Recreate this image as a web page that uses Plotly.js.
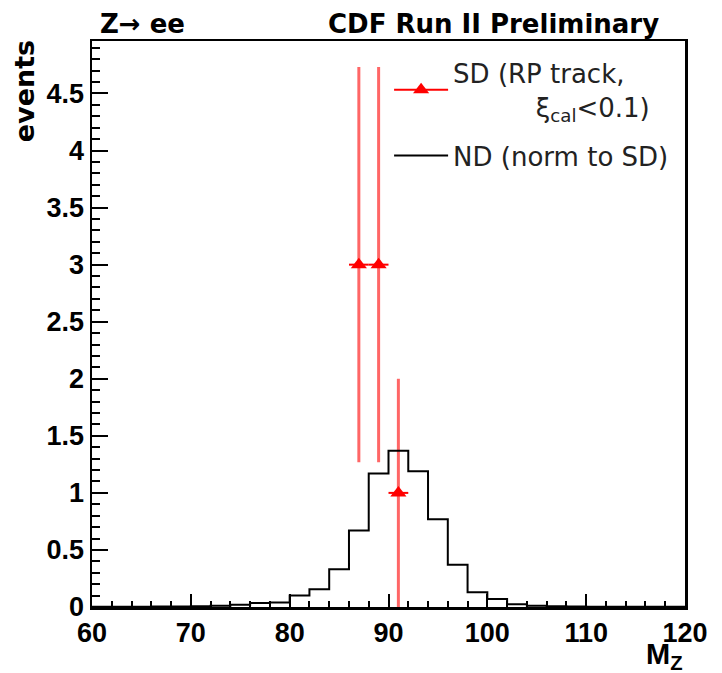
<!DOCTYPE html>
<html>
<head>
<meta charset="utf-8">
<script src="https://cdn.plot.ly/plotly-3.0.1.min.js"></script>
<style>html,body{margin:0;padding:0;background:#fff;}#chart{width:722px;height:673px;}</style>
</head>
<body>
<div id="chart"></div>
<script>
// ND histogram (normalised to SD): bin edges (GeV) and contents
const binEdges = [60,62,64,66,68,70,72,74,76,78,80,82,84,86,88,90,92,94,96,98,100,102,104,106,108,110,112,114,116,118,120];
const ndValues = [0.003,0.003,0.003,0.004,0.005,0.006,0.012,0.02,0.035,0.04,0.1,0.156,0.33,0.67,1.17,1.37,1.19,0.77,0.37,0.13,0.07,0.025,0.012,0.006,0.004,0.003,0.003,0.002,0.002,0.002];
// SD data points
const sdMass = [87, 89, 91];
const sdEvents = [3, 3, 1];
const sdErr = [1.732, 1.732, 1.0];
const sdXErr = [1, 1, 1];

const stepX = binEdges.slice();
const stepY = ndValues.concat([ndValues[ndValues.length-1]]);

const fontL = "Liberation Sans, Arial, sans-serif";
const fontD = "DejaVu Sans, sans-serif";

const traces = [
  {
    x: sdMass, y: sdEvents, type: 'scatter', mode: 'markers', showlegend: false,
    marker: {symbol: 'triangle-up', size: 14, color: 'red'},
    error_y: {type: 'data', array: sdErr, visible: true, color: 'rgba(255,0,0,0.6)', thickness: 3, width: 0},
    error_x: {type: 'data', array: sdXErr, visible: true, color: 'red', thickness: 2, width: 0}
  },
  {
    // legend entry for SD (line + triangle, as in the reference legend)
    x: [null], y: [null], type: 'scatter', mode: 'lines+markers', legendgroup: 'sd',
    name: 'SD (RP track,<br>          ξ<sub>cal</sub>&lt;0.1)',
    marker: {symbol: 'triangle-up', size: 14, color: 'red'},
    line: {color: 'red', width: 2}
  },
  {
    x: stepX, y: stepY, type: 'scatter', mode: 'lines', legendgroup: 'nd',
    name: 'ND (norm to SD)',
    line: {shape: 'hv', color: 'black', width: 2}
  }
];

const layout = {
  width: 722, height: 673,
  margin: {l: 92, r: 37, t: 41, b: 66},
  paper_bgcolor: '#fff', plot_bgcolor: '#fff',
  showlegend: true,
  legend: {x: 0.501, y: 0.985, xanchor: 'left', yanchor: 'top', bgcolor: 'rgba(0,0,0,0)',
           font: {family: fontD, size: 26, color: '#222'}, itemwidth: 54, tracegroupgap: 12},
  xaxis: {
    range: [60, 120], dtick: 10, tick0: 60, ticks: 'inside', ticklen: 13, tickwidth: 2, tickcolor: '#000',
    showline: true, linewidth: 2.5, linecolor: '#000', mirror: true, showgrid: false, zeroline: false,
    tickfont: {family: fontL, size: 27, color: '#000', weight: 'bold'},
    minor: {dtick: 2, ticks: 'inside', ticklen: 6, tickwidth: 2, tickcolor: '#000', showgrid: false}
  },
  yaxis: {
    range: [0, 4.96], dtick: 0.5, tick0: 0, ticks: 'inside', ticklen: 16, tickwidth: 2, tickcolor: '#000',
    showline: true, linewidth: 2.5, linecolor: '#000', mirror: true, showgrid: false, zeroline: false,
    tickfont: {family: fontL, size: 27, color: '#000', weight: 'bold'},
    minor: {dtick: 0.1, ticks: 'inside', ticklen: 8, tickwidth: 2, tickcolor: '#000', showgrid: false}
  },
  annotations: [
    {text: '<b>Z→ ee</b>', xref: 'paper', yref: 'paper', x: 0.01, y: 1.0, xanchor: 'left', yanchor: 'bottom', showarrow: false,
     font: {family: fontD, size: 26, color: '#000'}},
    {text: '<b>CDF Run II Preliminary</b>', xref: 'paper', yref: 'paper', x: 0.96, y: 1.0, xanchor: 'right', yanchor: 'bottom', showarrow: false,
     font: {family: fontD, size: 26, color: '#000'}},
    {text: '<b>events</b>', xref: 'paper', yref: 'paper', x: -0.085, y: 1.005, xanchor: 'right', yanchor: 'top', textangle: -90, showarrow: false,
     font: {family: fontD, size: 27, color: '#000'}},
    {text: '<b>M<sub>Z</sub></b>', xref: 'paper', yref: 'paper', x: 1.0, y: -0.052, xanchor: 'right', yanchor: 'top', showarrow: false,
     font: {family: fontL, size: 29, color: '#000'}}
  ]
};

Plotly.newPlot('chart', traces, layout, {displayModeBar: false, staticPlot: true});
</script>
</body>
</html>
